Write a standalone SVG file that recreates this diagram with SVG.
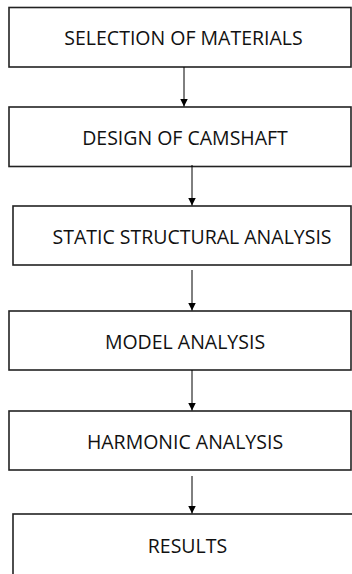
<svg xmlns="http://www.w3.org/2000/svg" width="352" height="574" viewBox="0 0 352 574">
<style>
.box{fill:#fff;stroke:#222;stroke-width:1.6}
.lbl{font-family:"Open Sans","Liberation Sans",sans-serif;font-size:19.5px;fill:#111;text-anchor:middle}
.con{stroke:#000;stroke-width:1;fill:none;marker-end:url(#ah)}
</style>
<defs>
<marker id="ah" markerWidth="8" markerHeight="8" refX="8" refY="4" orient="auto" markerUnits="userSpaceOnUse">
<path d="M0,0 L8,4 L0,8 Z" fill="#000"/>
</marker>
</defs>
<rect width="352" height="574" fill="#fff"/>
<g id="n1"><rect class="box" x="9" y="7.5" width="342" height="59.5"/><text class="lbl" x="183.5" y="44.5">SELECTION OF MATERIALS</text></g>
<g id="n2"><rect class="box" x="9" y="107" width="342" height="59.5"/><text class="lbl" x="185" y="144.5">DESIGN OF CAMSHAFT</text></g>
<g id="n3"><rect class="box" x="13" y="206" width="338" height="59"/><text class="lbl" x="192" y="243.5">STATIC STRUCTURAL ANALYSIS</text></g>
<g id="n4"><rect class="box" x="9" y="311" width="342" height="59"/><text class="lbl" x="185" y="348.5">MODEL ANALYSIS</text></g>
<g id="n5"><rect class="box" x="9" y="411" width="342" height="59"/><text class="lbl" x="185" y="448.5">HARMONIC ANALYSIS</text></g>
<g id="n6"><rect class="box" x="13" y="514" width="345" height="70"/><text class="lbl" x="187.5" y="552.5">RESULTS</text></g>
<g id="connectors">
<line class="con" x1="184" y1="67" x2="184" y2="106.5"/>
<line class="con" x1="192" y1="165" x2="192" y2="205.5"/>
<line class="con" x1="192" y1="270" x2="192" y2="310.5"/>
<line class="con" x1="192" y1="370" x2="192" y2="410.5"/>
<line class="con" x1="192" y1="476" x2="192" y2="513.5"/>
</g>
</svg>
